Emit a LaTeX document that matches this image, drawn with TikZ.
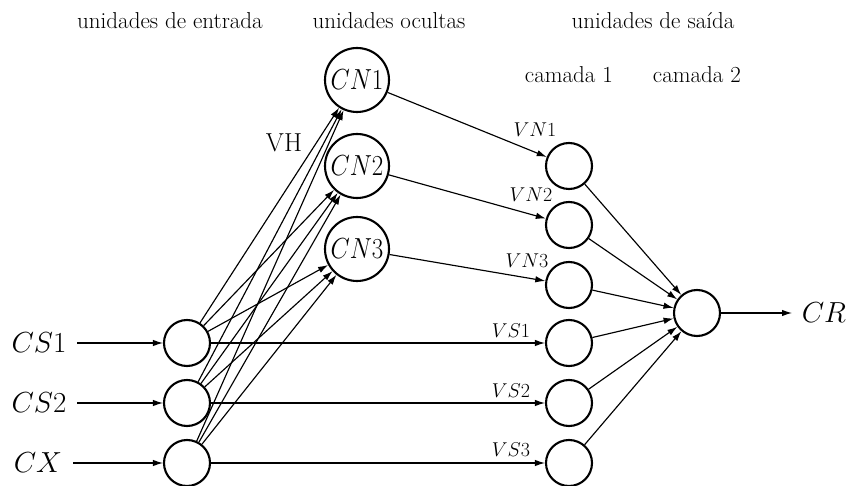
\RequirePackage{fix-cm}
\documentclass[tikz,border=0pt]{standalone}
\usepackage{fontspec}
\usepackage{graphicx}
\setmainfont{Latin Modern Roman}
\usetikzlibrary{arrows.meta}
\newcommand{\narrow}[1]{\scalebox{0.86}[1]{#1}}
\begin{document}
\begin{tikzpicture}[x=1pt,y=-1pt,
  unit/.style={circle,draw,line width=2.1pt,inner sep=0pt,minimum size=46pt},
  hidunit/.style={circle,draw,line width=2.1pt,inner sep=0pt,minimum size=64pt,font=\fontsize{29}{30}\selectfont},
  conn/.style={line width=1.15pt,-{Latex[length=10pt,width=6.5pt]}},
  head/.style={anchor=base,inner sep=0pt,font=\fontsize{23}{26}\selectfont},
  biglab/.style={inner sep=0pt,font=\fontsize{29}{32}\selectfont},
  wlab/.style={inner sep=0pt,font=\fontsize{20}{24}\selectfont}]
\useasboundingbox (0,0) rectangle (847,486);

% column headings
\node[head] (h1) at (170,29) {unidades de entrada};
\node[head] (h2) at (389,29) {unidades ocultas};
\node[head] (h3) at (653,29) {unidades de saída};
\node[head] (c1) at (569,83) {camada 1};
\node[head] (c2) at (697,83) {camada 2};

% input units
\node[unit] (i1) at (187,343) {};
\node[unit] (i2) at (187,403) {};
\node[unit] (i3) at (187,463) {};
\node[biglab] (l1) at (39,343) {$CS1$};
\node[biglab] (l2) at (39,403) {$CS2$};
\node[biglab] (l3) at (38,463) {$CX$};
\coordinate (s1) at (77,343);
\coordinate (s2) at (77,403);
\coordinate (s3) at (73,463);
\draw[conn] (s1) -- (i1);
\draw[conn] (s2) -- (i2);
\draw[conn] (s3) -- (i3);

% hidden units
\node[hidunit] (n1) at (357,80) {\narrow{$CN1$}};
\node[hidunit] (n2) at (357,166) {\narrow{$CN2$}};
\node[hidunit] (n3) at (357,249) {\narrow{$CN3$}};
\node[inner sep=0pt,font=\fontsize{26}{28}\selectfont] (vh) at (284,143) {VH};

\foreach \i in {1,2,3}{
  \foreach \j in {1,2,3}{
    \draw[conn] (i\i) -- (n\j);
  }
}

% first output layer
\node[unit] (vn1) at (569,166) {};
\node[unit] (vn2) at (569,225) {};
\node[unit] (vn3) at (569,285) {};
\node[unit] (vs1) at (569,343) {};
\node[unit] (vs2) at (569,403) {};
\node[unit] (vs3) at (569,463) {};

\draw[conn] (n1) -- (vn1);
\draw[conn] (n2) -- (vn2);
\draw[conn] (n3) -- (vn3);
\draw[conn] (i1) -- (vs1);
\draw[conn] (i2) -- (vs2);
\draw[conn] (i3) -- (vs3);

\node[wlab] (tvn1) at (535,130) {$VN1$};
\node[wlab] (tvn2) at (531,195) {$VN2$};
\node[wlab] (tvn3) at (527,261) {$VN3$};
\node[wlab] (tvs1) at (511,331) {$VS1$};
\node[wlab] (tvs2) at (511,391) {$VS2$};
\node[wlab] (tvs3) at (511,450) {$VS3$};

% second output layer
\node[unit] (o) at (697,313) {};
\foreach \k in {vn1,vn2,vn3,vs1,vs2,vs3}{
  \draw[conn] (\k) -- (o);
}
\coordinate (e) at (792,313);
\draw[conn] (o) -- (e);
\node[biglab] (cr) at (824,313) {$CR$};
\end{tikzpicture}
\end{document}
